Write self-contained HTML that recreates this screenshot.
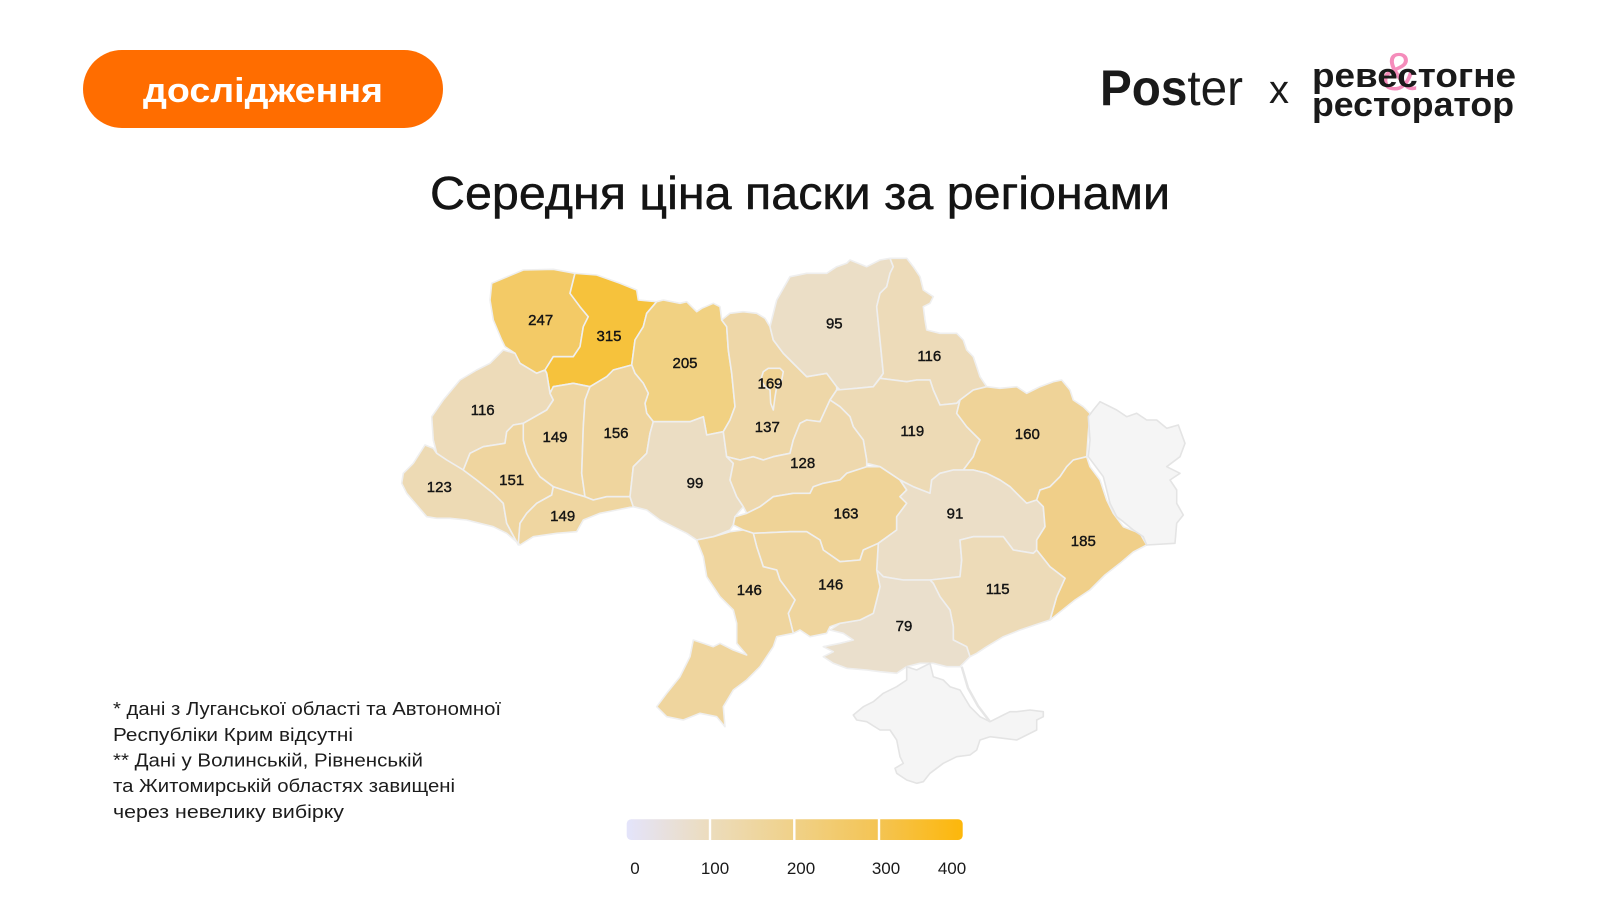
<!DOCTYPE html>
<html><head><meta charset="utf-8"><style>
html,body{margin:0;padding:0;background:#fff;}
body{width:1600px;height:900px;overflow:hidden;}
svg{display:block;}
text{font-family:"Liberation Sans","DejaVu Sans",sans-serif;}
</style></head><body>
<svg width="1600" height="900" viewBox="0 0 1600 900" xmlns="http://www.w3.org/2000/svg">
<defs>
<linearGradient id="g" x1="0" x2="1" y1="0" y2="0">
<stop offset="0" stop-color="#e4e4fb"/>
<stop offset="0.25" stop-color="#ecdcbc"/>
<stop offset="0.5" stop-color="#f0d188"/>
<stop offset="0.75" stop-color="#f4c453"/>
<stop offset="1" stop-color="#fdb70a"/>
</linearGradient>
</defs>
<rect width="1600" height="900" fill="#fff"/>

<!-- button -->
<rect x="83" y="50" width="360" height="78" rx="39" fill="#ff6d00"/>
<text x="263" y="102" text-anchor="middle" font-size="34" font-weight="bold" fill="#fff" textLength="240" lengthAdjust="spacingAndGlyphs">дослідження</text>

<!-- logo -->
<text x="1100" y="105" font-size="50" fill="#1a1a1a" textLength="143" lengthAdjust="spacingAndGlyphs"><tspan font-weight="bold">Pos</tspan><tspan>ter</tspan></text>
<text x="1279" y="103" text-anchor="middle" font-size="40" fill="#1a1a1a">x</text>
<text x="1399" y="90" text-anchor="middle" font-size="54" fill="#f58cbb">&amp;</text>
<text x="1312" y="87" font-size="34" font-weight="bold" fill="#1a1a1a" textLength="204" lengthAdjust="spacingAndGlyphs">ревестогне</text>
<text x="1312" y="116" font-size="34" font-weight="bold" fill="#1a1a1a" textLength="202" lengthAdjust="spacingAndGlyphs">ресторатор</text>

<!-- title -->
<text x="800" y="209" text-anchor="middle" font-size="46" fill="#141414" stroke="#141414" stroke-width="0.5" textLength="740" lengthAdjust="spacingAndGlyphs">Середня ціна паски за регіонами</text>

<!-- map -->
<g stroke="#efefef" stroke-width="1.6" stroke-linejoin="round">
<polygon fill="#f3ca66" points="491.7,283.3 523.3,270 553.3,269.3 575,273.3 570,293.3 580,306.7 588.3,316.7 583.3,326.7 580,346.7 573.3,356.7 553.3,356.7 545,370 536.7,373.3 520,363.3 515,353.3 505,346.7 501.7,340 493.3,320 490,300"/>
<polygon fill="#f6c23c" points="575,273.3 596.7,275 620,283.3 636.7,290 638.3,300 656.7,301.7 646.7,313.3 643.3,326.7 635,340 631.7,365 613.3,370 606.7,376.7 590,386.7 573.3,383.3 553.3,386.7 550,393.3 546.7,373.3 545,370 553.3,356.7 573.3,356.7 580,346.7 583.3,326.7 588.3,316.7 580,306.7 570,293.3"/>
<polygon fill="#f1d182" points="656.7,301.7 663.3,300 680,303.3 686.7,301.7 696.7,311.7 701.7,308.3 713.3,303.3 720,306.7 721.7,320 726.7,326.7 728.3,350 731.7,373.3 735,406.7 730,420 723.3,431.7 706.7,435 703.3,416.7 690,421.7 653.3,421.7 646.7,413.3 645,403.3 648.3,393.3 643.3,383.3 635,373.3 631.7,365 635,340 643.3,326.7 646.7,313.3"/>
<polygon fill="#eddbb9" points="503.3,350 515,353.3 520,363.3 536.7,373.3 545,370 546.7,373.3 550,393.3 553.3,400 546.7,410 523.3,423.3 513.3,425 506.7,431.7 505,443.3 483.3,446.7 470,453.3 463.3,470 446.7,460 436.7,453.3 433.3,440 431.7,416.7 443.3,400 460,380 476.7,370 490,363.3"/>
<polygon fill="#eddab4" points="403.3,473.3 413.3,463.3 425,445 433.3,448.3 436.7,453.3 446.7,460 463.3,470 476.7,480 493.3,493.3 503.3,503.3 506.7,523.3 516.7,542 506.7,533.3 493.3,526.7 466.7,520 450,518.3 436.7,518.3 426.7,516.7 416.7,505 406.7,493.3 401.7,483.3"/>
<polygon fill="#efd59f" points="463.3,470 470,453.3 483.3,446.7 505,443.3 506.7,431.7 513.3,425 523.3,423.3 523.3,440 526.7,453.3 533.3,466.7 540,476.7 553.3,486.7 551.7,495 536.7,503.3 526.7,513.3 520,523.3 518.3,545 516.7,542 506.7,523.3 503.3,503.3 493.3,493.3 476.7,480"/>
<polygon fill="#efd6a1" points="523.3,423.3 546.7,410 553.3,400 550,393.3 553.3,386.7 573.3,383.3 590,386.7 585,400 583.3,426.7 581.7,473.3 585,496.7 573.3,493.3 553.3,486.7 540,476.7 533.3,466.7 526.7,453.3 523.3,440"/>
<polygon fill="#efd59e" points="590,386.7 606.7,376.7 613.3,370 631.7,365 635,373.3 643.3,383.3 648.3,393.3 645,403.3 646.7,413.3 653.3,421.7 650,433.3 646.7,453.3 633.3,466.7 630,496.7 606.7,496.7 593.3,500 585,496.7 581.7,473.3 583.3,426.7 585,400"/>
<polygon fill="#efd6a1" points="553.3,486.7 573.3,493.3 585,496.7 593.3,500 606.7,496.7 630,496.7 633.3,506.7 616.7,510 600,513.3 583.3,520 576.7,531.7 556.7,533.3 533.3,536.7 520,545 518.3,543.3 520,523.3 526.7,513.3 536.7,503.3 551.7,495"/>
<polygon fill="#ebddc3" points="653.3,421.7 690,421.7 703.3,416.7 706.7,435 723.3,431.7 726.7,456.7 733.3,463.3 730,480 736.7,496.7 743.3,506.7 735,516.7 733.3,525 730,530 713.3,536.7 696.7,540 686.7,533.3 673.3,526.7 660,520 646.7,510 633.3,506.7 630,496.7 633.3,466.7 646.7,453.3 650,433.3"/>
<polygon fill="#eed7a8" points="721.7,320 730,313.3 743.3,311.7 756.7,313.3 765,318.3 770,326.7 773.3,340 783.3,353.3 790,360 798.3,368.3 806.7,376.7 826.7,373.3 836.7,386.7 836.7,390 830,400 820,421.7 806.7,420 800,423.3 793.3,440 790,453.3 773.3,456.7 763.3,460 753.3,456.7 740,460 726.7,456.7 723.3,431.7 730,420 735,406.7 731.7,373.3 728.3,350 726.7,326.7"/>
<polygon fill="#f0d293" points="763.3,371.7 768.3,368.3 780,368.3 783.3,371.7 781.7,380 776.7,386.7 775,396.7 773.3,410 770.7,403.3 770,390 765,386.7 760.7,380"/>
<polygon fill="#ebdec6" points="776.7,300 790,276.7 806.7,273.3 826.7,273.3 836.7,266.7 846.7,263.3 850,260 866.7,266.7 880,260 890,258.3 893.3,266.7 890,273.3 886.7,286.7 880,293.3 876.7,306.7 880,340 883.3,373.3 878.3,380 873.3,386.7 856.7,388.3 840,390 836.7,386.7 826.7,373.3 806.7,376.7 798.3,368.3 790,360 783.3,353.3 773.3,340 770,326.7 775,306.7"/>
<polygon fill="#eddbb9" points="890,258.3 906.7,258.3 913.3,266.7 920,276.7 923.3,290 933.3,296.7 930,303.3 923.3,306.7 925,320 926.7,330 940,333.3 956.7,333.3 963.3,340 966.7,350 973.3,356.7 976.7,366.7 980,376.7 986.7,386.7 973.3,390 960,400 956.7,403.3 940,405 933.3,390 930,380 916.7,380 906.7,381.7 880,378.3 883.3,373.3 880,340 876.7,306.7 880,293.3 886.7,286.7 890,273.3 893.3,266.7"/>
<polygon fill="#eddab5" points="836.7,390 856.7,388.3 873.3,386.7 880,378.3 906.7,381.7 916.7,380 930,380 933.3,390 940,405 956.7,403.3 960,400 956.7,413.3 966.7,426.7 973.3,433.3 980,440 976.7,446.7 973.3,456.7 963.3,470 953.3,470 940,473.3 931.7,480 930,493.3 913.3,486.7 900,480 890,473.3 880,466.7 866.7,463.3 866.7,460 863.3,440 853.3,426.7 850,416.7 840,406.7 830,400"/>
<polygon fill="#efd398" points="960,400 973.3,390 986.7,386.7 1000,388.3 1016.7,386.7 1026.7,393.3 1033.3,390 1040,386.7 1053.3,381.7 1061.7,380 1070,390 1073.3,400 1083.3,406.7 1090,413.3 1088.3,433.3 1086.7,456.7 1073.3,460 1066.7,466.7 1060,476.7 1050,486.7 1040,490 1036.7,500 1026.7,503.3 1020,496.7 1010,486.7 1000,480 986.7,473.3 973.3,470 963.3,470 973.3,456.7 976.7,446.7 980,440 973.3,433.3 966.7,426.7 956.7,413.3"/>
<polygon fill="#eed8ad" points="740,460 753.3,456.7 763.3,460 773.3,456.7 790,453.3 793.3,440 800,423.3 806.7,420 820,421.7 830,400 840,406.7 850,416.7 853.3,426.7 863.3,440 866.7,460 866.7,466.7 846.7,473.3 840,480 823.3,483.3 813.3,486.7 810,493.3 793.3,493.3 773.3,496.7 760,506.7 746.7,513.3 743.3,506.7 736.7,496.7 730,480 733.3,463.3 726.7,456.7"/>
<polygon fill="#efd397" points="746.7,513.3 760,506.7 773.3,496.7 793.3,493.3 810,493.3 813.3,486.7 823.3,483.3 840,480 846.7,473.3 866.7,466.7 880,466.7 890,473.3 900,480 906.7,490 900,496.7 906.7,503.3 896.7,516.7 896.7,530 878.3,543.3 863.3,550 860,560 840,561.7 823.3,550 820,540 806.7,531.7 790,531.7 753.3,533.3 743.3,530 733.3,525 735,516.7"/>
<polygon fill="#ebdec7" points="900,480 913.3,486.7 930,493.3 931.7,480 940,473.3 953.3,470 963.3,470 973.3,470 986.7,473.3 1000,480 1010,486.7 1020,496.7 1026.7,503.3 1036.7,500 1043.3,506.7 1045,526.7 1036.7,540 1036.7,550 1033.3,553.3 1013.3,550 1003.3,536.7 973.3,536.7 960,540 961.7,560 960,576.7 930,580 903.3,580 883.3,576.7 876.7,570 878.3,543.3 896.7,530 896.7,516.7 906.7,503.3 900,496.7 906.7,490"/>
<polygon fill="#f0cf89" points="1073.3,460 1086.7,456.7 1090,466.7 1100,480 1106.7,500 1113.3,513.3 1123.3,526.7 1140,533.3 1146.7,545 1133.3,552 1120,563.3 1105,575 1090,590 1075,600 1060,612 1050,620 1056.7,596.7 1065,578.3 1050,566.7 1036.7,550 1036.7,540 1045,526.7 1043.3,506.7 1036.7,500 1040,490 1050,486.7 1060,476.7 1066.7,466.7"/>
<polygon fill="#eddbb8" points="930,580 960,576.7 961.7,560 960,540 973.3,536.7 1003.3,536.7 1013.3,550 1033.3,553.3 1036.7,550 1050,566.7 1065,578.3 1056.7,596.7 1050,620 1040,623.3 1020,630 1003.3,636.7 986.7,646.7 976.7,653.3 970,656.7 966.7,646.7 953.3,640 953.3,626.7 950,610 940,596.7 933.3,583.3"/>
<polygon fill="#eadfcc" points="876.7,570 883.3,576.7 903.3,580 930,580 933.3,583.3 940,596.7 950,610 953.3,626.7 953.3,640 966.7,646.7 970,656.7 960,666.7 946.7,666.7 933.3,663.3 920,663.3 906.7,666.7 896.7,673.3 880,671.7 866.7,670 846.7,668.3 833.3,663.3 823.3,656.7 833.3,651.7 823.3,646.7 840,643.3 853.3,640 843.3,633.3 830,630 840,623.3 860,620 873.3,613.3 876.7,600 880,586.7"/>
<polygon fill="#efd59e" points="753.3,533.3 790,531.7 806.7,531.7 820,540 823.3,550 840,561.7 860,560 863.3,550 878.3,543.3 876.7,570 880,586.7 876.7,600 873.3,613.3 860,620 840,623.3 830,626.7 826.7,633.3 810,636.7 800,630 793.3,633.3 788.3,613.3 795,600 790,593.3 780,580 776.7,570 763.3,566.7 756.7,546.7"/>
<polygon fill="#efd59e" points="696.7,540 713.3,536.7 730,531.7 743.3,530 753.3,533.3 756.7,546.7 763.3,566.7 776.7,570 780,580 790,593.3 795,600 788.3,613.3 793.3,633.3 776.7,636.7 773.3,646.7 760,666.7 746.7,680 733.3,690 723.3,706.7 725,726.7 716.7,716.7 700,713.3 683.3,720 666.7,716.7 656.7,706.7 666.7,693.3 680,676.7 690,656.7 693.3,640 703.3,643.3 713.3,646.7 720,643.3 733.3,650 746.7,655 736.7,643.3 736.7,623.3 733.3,610 720,596.7 706.7,576.7 703.3,556.7"/>
</g>
<g stroke="#e4e4e4" stroke-width="1.6" stroke-linejoin="round" fill="#f5f5f5">
<polygon points="1093.3,410 1100,401.7 1106.7,405 1116.7,410 1126.7,416.7 1136.7,413.3 1146.7,420 1156.7,420 1166.7,428.3 1178.3,425 1185,443.3 1180,456.7 1166.7,466.7 1180,473.3 1170,480 1176.7,490 1176.7,503.3 1183.3,515 1176.7,523.3 1175,543.3 1146.7,545 1143.3,536.7 1133.3,530 1123.3,521.7 1116.7,516.7 1110,503.3 1106.7,490 1103.3,476.7 1093.3,463.3 1088.3,456.7 1090,440 1088.3,416.7"/>
<polygon points="853.3,715 863.3,706.7 873.3,701.7 883.3,693.3 896.7,686.7 906.7,680 906.7,666.7 916.7,670 930,663.3 933.3,676.7 943.3,680 950,686.7 960,690 970,706.7 980,716.7 990,721.7 1003.3,715 1010,711.7 1016.7,711.7 1030,710 1043.3,711.7 1043.3,716.7 1036.7,720 1036.7,730 1026.7,735 1016.7,740 1003.3,738.3 990,736.7 980,740 976.7,750 970,755 956.7,756.7 943.3,763.3 930,773.3 923.3,781.7 916.7,783.3 906.7,780 896.7,773.3 895,768.3 903.3,763.3 900,756.7 896.7,740 890,730 880,730 866.7,721.7 856.7,720"/>
<polyline fill="none" stroke="#e6e6e6" stroke-width="2.5" points="961.7,666.7 968,688 978,706 990,721.7"/>
</g>

<!-- map labels -->
<g font-size="15" fill="#141414" text-anchor="middle" stroke="#141414" stroke-width="0.4">
<text x="540.7" y="325">247</text>
<text x="609" y="341">315</text>
<text x="685" y="368">205</text>
<text x="482.7" y="415">116</text>
<text x="555" y="442">149</text>
<text x="616" y="438">156</text>
<text x="439.3" y="492">123</text>
<text x="511.7" y="485">151</text>
<text x="562.7" y="521">149</text>
<text x="695" y="488">99</text>
<text x="770" y="388.5">169</text>
<text x="767.3" y="432">137</text>
<text x="834.3" y="328.5">95</text>
<text x="929.3" y="361">116</text>
<text x="912.3" y="436">119</text>
<text x="1027.3" y="439">160</text>
<text x="802.7" y="468">128</text>
<text x="846" y="518.5">163</text>
<text x="955" y="518.5">91</text>
<text x="1083.3" y="546">185</text>
<text x="749.3" y="595">146</text>
<text x="830.7" y="589.5">146</text>
<text x="904" y="631">79</text>
<text x="997.7" y="594">115</text>
</g>

<!-- footnote -->
<g font-size="18" fill="#1c1c1c">
<text x="113" y="715" textLength="388" lengthAdjust="spacingAndGlyphs">* дані з Луганської області та Автономної</text>
<text x="113" y="741" textLength="240" lengthAdjust="spacingAndGlyphs">Республіки Крим відсутні</text>
<text x="113" y="766.5" textLength="310" lengthAdjust="spacingAndGlyphs">** Дані у Волинській, Рівненській</text>
<text x="113" y="792" textLength="342" lengthAdjust="spacingAndGlyphs">та Житомирській областях завищені</text>
<text x="113" y="818" textLength="231" lengthAdjust="spacingAndGlyphs">через невелику вибірку</text>
</g>

<!-- legend -->
<rect x="626.7" y="819.3" width="336" height="20.7" rx="4.5" fill="url(#g)"/>
<g stroke="#fff" stroke-width="2.4">
<line x1="710" y1="818" x2="710" y2="842"/>
<line x1="794.3" y1="818" x2="794.3" y2="842"/>
<line x1="879" y1="818" x2="879" y2="842"/>
</g>
<g font-size="17" fill="#1a1a1a" text-anchor="middle">
<text x="635" y="874">0</text>
<text x="715" y="874">100</text>
<text x="801" y="874">200</text>
<text x="886" y="874">300</text>
<text x="952" y="874">400</text>
</g>
</svg>
</body></html>
